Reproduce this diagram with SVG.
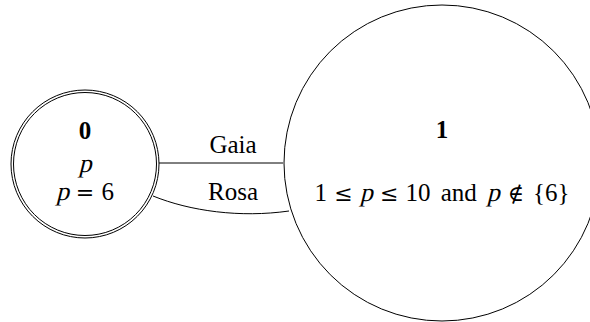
<svg xmlns="http://www.w3.org/2000/svg" width="590" height="322" viewBox="0 0 590 322">
<style>
.n{fill:#fff;stroke:#000;stroke-width:1}
.e{fill:none;stroke:#000;stroke-width:1}
text{font-family:"Liberation Serif","DejaVu Serif",serif;font-size:25px;fill:#000;text-anchor:middle}
.b{font-weight:bold}
.i{font-size:26px}
.s{font-family:"DejaVu Serif","Liberation Serif",serif;font-size:22px}
</style>
<rect width="590" height="322" fill="#fff"/>
<g id="connectors">
<path class="e" d="M159,163 L283,163"/>
<path class="e" d="M153,196 C190,211 240,218 289,211"/>
<text x="233" y="153">Gaia</text>
<text x="233" y="200">Rosa</text>
</g>
<g id="node0">
<circle class="n" cx="85" cy="164" r="74"/>
<circle class="n" cx="85" cy="164" r="71.5"/>
<text class="b" x="85" y="139">0</text>
<text class="i" transform="translate(85,172) skewX(-14)">p</text>
<text class="i" transform="translate(62.5,200) skewX(-14)">p</text>
<text class="s" x="85" y="200">=</text>
<text x="107.8" y="200">6</text>
</g>
<g id="node1">
<circle class="n" cx="442" cy="163" r="158"/>
<text class="b" x="442" y="138">1</text>
<text x="320.7" y="201">1</text>
<text class="s" x="343.5" y="201">≤</text>
<text class="i" transform="translate(366.2,201) skewX(-14)">p</text>
<text class="s" x="389.1" y="201">≤</text>
<text x="418" y="201">10</text>
<text x="458.7" y="201">and</text>
<text class="i" transform="translate(493.2,201) skewX(-14)">p</text>
<text class="s" x="516" y="201">∉</text>
<text x="551.2" y="201">{6}</text>
</g>
</svg>
